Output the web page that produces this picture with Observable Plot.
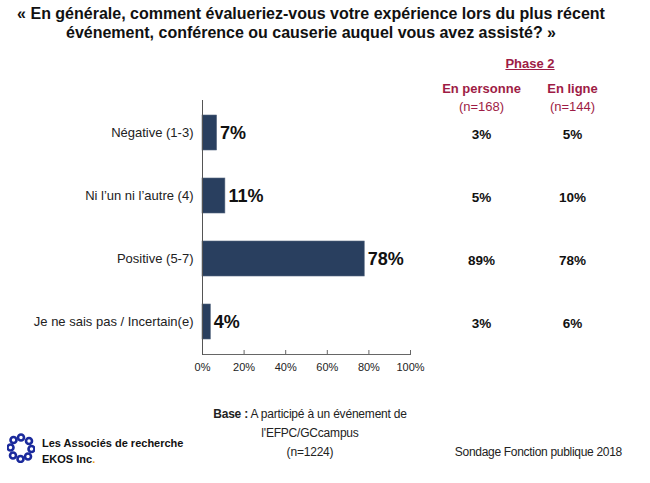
<!DOCTYPE html>
<html>
<head>
<meta charset="utf-8">
<script src="https://cdn.jsdelivr.net/npm/d3@7"></script>
<script src="https://cdn.jsdelivr.net/npm/@observablehq/plot@0.6"></script>
<style>
  body { margin: 0; background: #fff; }
  #wrap { position: relative; width: 650px; height: 483px; overflow: hidden; font-family: "Liberation Sans", Arial, sans-serif; color: #111; }
  #wrap > * { position: absolute; }
  .title { left: 0; top: 4px; width: 622px; text-align: center; font-weight: bold; font-size: 16px; line-height: 19px; color: #111; }
  .phase { left: 480px; width: 100px; top: 56px; text-align: center; font-weight: bold; font-size: 13px; line-height: 16px; color: #9e1c45; text-decoration: underline; }
  .base { left: 180px; width: 260px; top: 405px; text-align: center; font-size: 12px; line-height: 19px; color: #222; letter-spacing: -0.2px; }
  .sondage { right: 28px; top: 444px; font-size: 12px; line-height: 16px; color: #222; letter-spacing: -0.3px; }
  .ekos { left: 42px; top: 435px; font-size: 11px; line-height: 16px; font-weight: bold; color: #111; }
  .logo { left: 7px; top: 433px; }
</style>
</head>
<body>
<div id="wrap">
  <div class="title">« En générale, comment évalueriez-vous votre expérience lors du plus récent<br>événement, conférence ou causerie auquel vous avez assisté? »</div>
  <div class="phase">Phase 2</div>
  <div class="base"><b>Base :</b> A participé à un événement de<br>l'EFPC/GCcampus<br>(n=1224)</div>
  <div class="sondage">Sondage Fonction publique 2018</div>
  <svg class="logo" width="28" height="30" viewBox="0 0 28 30">
    <g fill="none" stroke="#1b2a9c" stroke-width="2.6">
      <circle cx="14" cy="4.5" r="3"/>
      <circle cx="22" cy="8" r="3"/>
      <circle cx="24.5" cy="16" r="3"/>
      <circle cx="21" cy="23.5" r="3"/>
      <circle cx="13.5" cy="26" r="3"/>
      <circle cx="6" cy="22.5" r="3"/>
      <circle cx="3.5" cy="14.5" r="3"/>
      <circle cx="6.5" cy="7" r="3"/>
    </g>
  </svg>
  <div class="ekos">Les Associés de recherche<br>EKOS Inc<span style="color:#f5a21b">.</span></div>
</div>
<script>
const categories = ["Négative (1-3)", "Ni l’un ni l’autre (4)", "Positive (5-7)", "Je ne sais pas / Incertain(e)"];
const totals = [7, 11, 78, 4];
const enPersonne = [3, 5, 89, 3];
const enLigne = [5, 10, 78, 6];
const columns = ["En personne", "En ligne"];
const columnN = ["(n=168)", "(n=144)"];
const xTicks = [0, 20, 40, 60, 80, 100];

const wrap = document.getElementById("wrap");
const font = "'Liberation Sans', Arial, sans-serif";

const barData = categories.map((c, i) => ({category: c, value: totals[i]}));

const main = Plot.plot({
  width: 650,
  height: 483,
  marginTop: 100,
  marginBottom: 129,
  marginLeft: 202,
  marginRight: 240,
  style: {fontFamily: font, background: "transparent", overflow: "visible", color: "#222"},
  x: {domain: [0, 100]},
  y: {domain: categories, paddingInner: 0.45, paddingOuter: 0.225},
  marks: [
    Plot.barX(barData, {x: "value", y: "category", fill: "#293f5f", stroke: "#56667f", strokeWidth: 0.6}),
    Plot.text(barData, {x: "value", y: "category", text: d => d.value + "%", textAnchor: "start", dx: 3, fontSize: 18, fontWeight: "bold", fill: "#111"}),
    Plot.axisY({tickSize: 0, tickPadding: 9, fontSize: 13, label: null, fill: "#222"}),
    Plot.axisX({ticks: xTicks, tickFormat: d => d + "%", tickSize: 4, dy: -4, tickPadding: 9, fontSize: 11, label: null, stroke: "#666", fill: "#222"}),
    Plot.frame({anchor: "bottom", stroke: "#666"}),
    Plot.frame({anchor: "left", stroke: "#555"})
  ]
});
main.style.left = "0px";
main.style.top = "0px";
wrap.appendChild(main);

const colData = categories.flatMap((c, i) => [
  {category: c, col: columns[0], v: enPersonne[i]},
  {category: c, col: columns[1], v: enLigne[i]}
]);
const headData = columns.map((c, i) => ({col: c, n: columnN[i]}));

const side = Plot.plot({
  width: 650,
  height: 483,
  marginTop: 100,
  marginBottom: 129,
  marginLeft: 0,
  marginRight: 0,
  style: {fontFamily: font, background: "transparent", overflow: "visible"},
  x: {type: "point", domain: columns, range: [481, 572], padding: 0, axis: null},
  y: {domain: categories, paddingInner: 0.45, paddingOuter: 0.225, axis: null},
  marks: [
    Plot.text(colData, {x: "col", y: "category", text: d => d.v + "%", fontSize: 13.5, fontWeight: "bold", fill: "#111", dy: 1}),
    Plot.text(headData, {x: "col", frameAnchor: "top", text: "col", dy: -17, fontSize: 13, fontWeight: "bold", fill: "#9e1c45"}),
    Plot.text(headData, {x: "col", frameAnchor: "top", text: "n", dy: 1, fontSize: 13, fill: "#9e1c45"})
  ]
});
side.style.left = "0px";
side.style.top = "0px";
side.style.pointerEvents = "none";
wrap.appendChild(side);
</script>
</body>
</html>
